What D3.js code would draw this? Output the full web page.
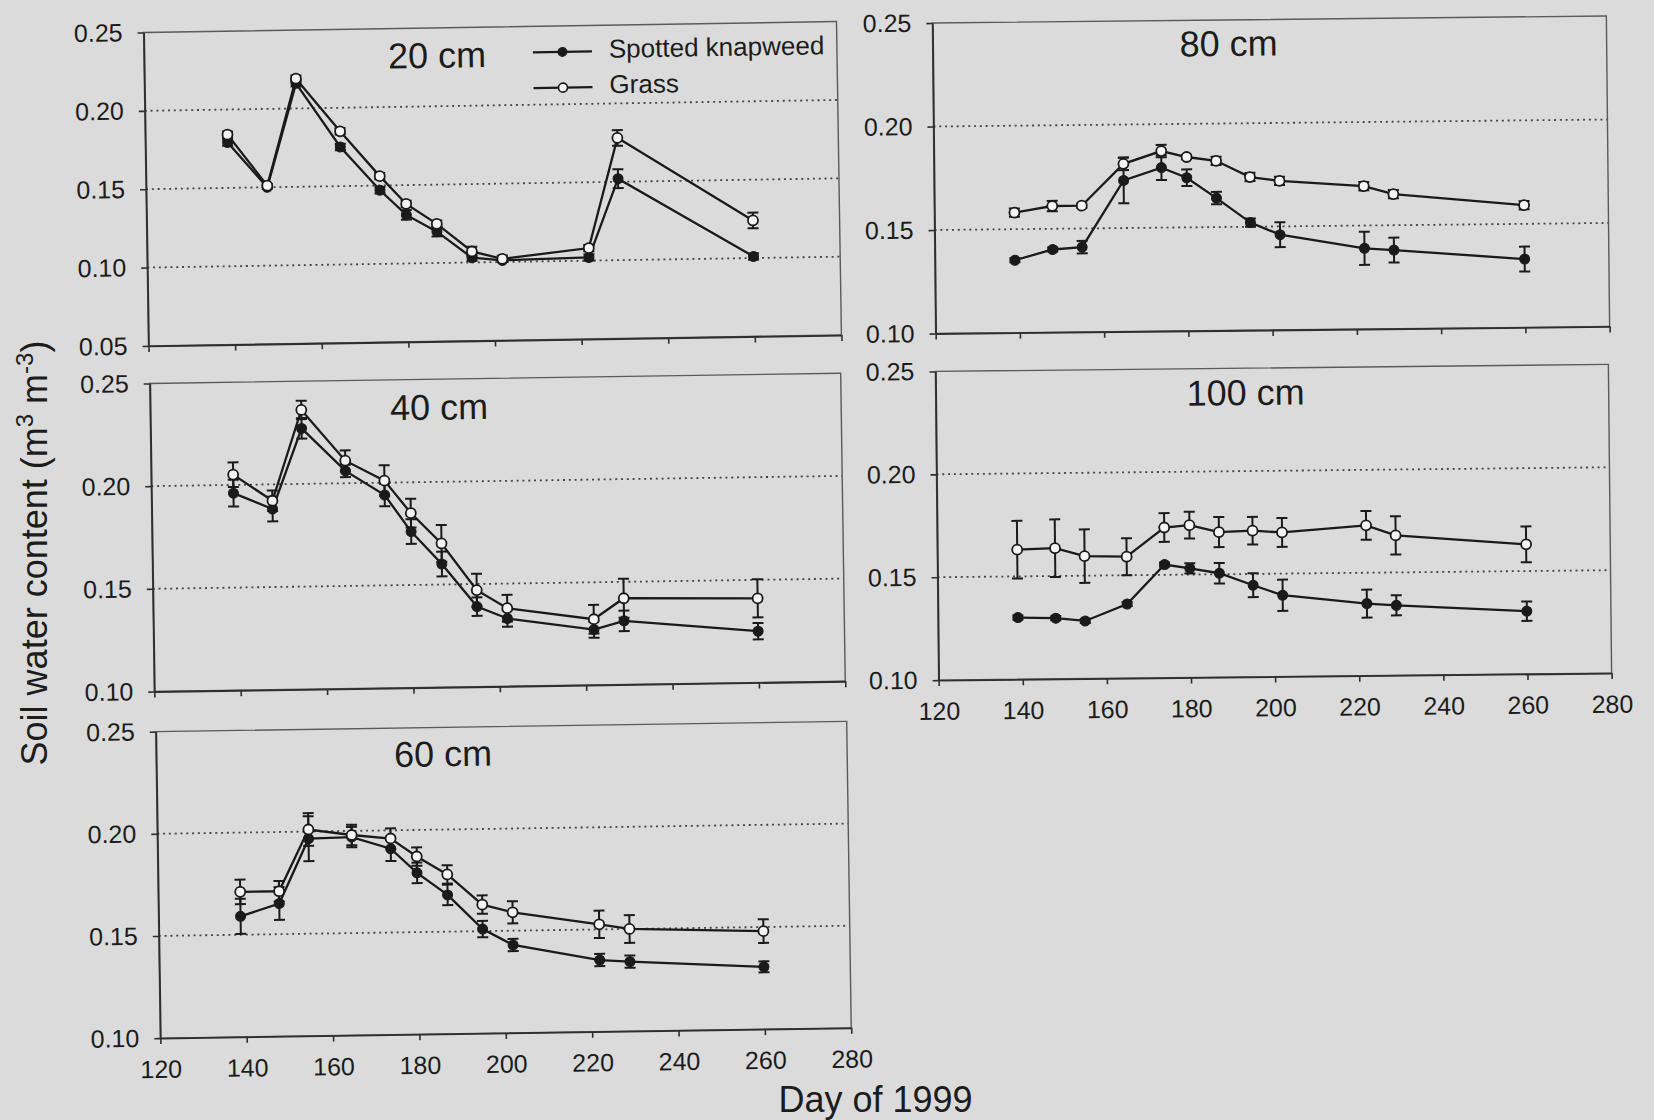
<!DOCTYPE html>
<html>
<head>
<meta charset="utf-8">
<script src="https://cdn.jsdelivr.net/npm/d3@7"></script>
<style>
  html, body { margin: 0; padding: 0; background: #dbdbdb; }
  svg { display: block; }
  text { font-family: "Liberation Sans", Arial, Helvetica, sans-serif; fill: #1c1c1c; }
</style>
</head>
<body>
<svg id="chart" width="1654" height="1120"></svg>
<script>
// ---- data: soil water content (m3 m-3) by sampling day, mean and SE ----
const days = [139, 148, 155, 165, 174, 180, 187, 195, 202, 222, 229, 260];
const xTicks = [120, 140, 160, 180, 200, 220, 240, 260, 280];
const yTicks20 = [0.05, 0.10, 0.15, 0.20, 0.25];
const yTicksDeep = [0.10, 0.15, 0.20, 0.25];
const gridLines20 = [0.10, 0.15, 0.20];
const gridLinesDeep = [0.15, 0.20];
const seriesNames = ["Spotted knapweed", "Grass"];
const depthTitles = ["20 cm", "40 cm", "60 cm", "80 cm", "100 cm"];
const xTitle = "Day of 1999";

const knapweed20    = [0.179, 0.150, 0.216, 0.175, 0.147, 0.131, 0.120, 0.103, 0.101, 0.102, 0.152, 0.101];
const knapweed20Err = [0.002, 0.001, 0.002, 0.002, 0.002, 0.003, 0.003, 0.002, 0.001, 0.002, 0.006, 0.002];
const grass20       = [0.184, 0.151, 0.219, 0.185, 0.156, 0.138, 0.125, 0.107, 0.102, 0.108, 0.178, 0.124];
const grass20Err    = [0.002, 0.001, 0.002, 0.002, 0.002, 0.002, 0.002, 0.003, 0.002, 0.002, 0.005, 0.005];

const knapweed40    = [0.196, 0.188, 0.227, 0.206, 0.194, 0.176, 0.160, 0.139, 0.133, 0.127, 0.131, 0.125];
const knapweed40Err = [0.0065, 0.006, 0.005, 0.003, 0.0055, 0.006, 0.006, 0.0045, 0.004, 0.004, 0.005, 0.004];
const grass40       = [0.205, 0.192, 0.236, 0.211, 0.201, 0.185, 0.170, 0.147, 0.138, 0.132, 0.142, 0.141];
const grass40Err    = [0.006, 0.005, 0.0045, 0.005, 0.0075, 0.007, 0.009, 0.008, 0.0065, 0.007, 0.0095, 0.0093];

const knapweed60    = [0.159, 0.165, 0.1965, 0.197, 0.191, 0.179, 0.168, 0.151, 0.143, 0.135, 0.134, 0.1305];
const knapweed60Err = [0.0086, 0.008, 0.011, 0.005, 0.006, 0.005, 0.005, 0.004, 0.003, 0.003, 0.003, 0.0027];
const grass60       = [0.171, 0.171, 0.201, 0.198, 0.196, 0.187, 0.178, 0.163, 0.159, 0.1525, 0.150, 0.148];
const grass60Err    = [0.006, 0.005, 0.008, 0.005, 0.005, 0.0045, 0.0045, 0.0045, 0.0054, 0.0067, 0.0068, 0.0058];

const knapweed80    = [0.135, 0.140, 0.141, 0.173, 0.179, 0.174, 0.164, 0.152, 0.146, 0.139, 0.138, 0.133];
const knapweed80Err = [0.001, 0.001, 0.003, 0.011, 0.006, 0.004, 0.003, 0.002, 0.006, 0.008, 0.006, 0.006];
const grass80       = [0.158, 0.161, 0.161, 0.181, 0.187, 0.184, 0.182, 0.174, 0.172, 0.169, 0.165, 0.159];
const grass80Err    = [0.002, 0.0025, 0.001, 0.003, 0.003, 0.001, 0.002, 0.002, 0.002, 0.002, 0.002, 0.002];

const knapweed100    = [0.130, 0.1295, 0.128, 0.136, 0.155, 0.153, 0.1505, 0.1445, 0.1395, 0.135, 0.134, 0.1305];
const knapweed100Err = [0.001, 0.001, 0.001, 0.001, 0.001, 0.0025, 0.005, 0.0058, 0.0076, 0.0068, 0.0049, 0.0047];
const grass100       = [0.163, 0.1635, 0.1595, 0.159, 0.173, 0.174, 0.1705, 0.171, 0.170, 0.173, 0.168, 0.163];
const grass100Err    = [0.014, 0.014, 0.013, 0.009, 0.007, 0.0065, 0.0073, 0.0067, 0.007, 0.007, 0.0093, 0.0087];

// ---- layout of the five panels (page pixels) ----
const panels = [
  { title: depthTitles[0], k: knapweed20, kErr: knapweed20Err, g: grass20, gErr: grass20Err,
    yMin: 0.05, yTicks: yTicks20, grid: gridLines20,
    x0: 146, x1: 839, yTop: 27, yBot: 340.5, angle: -0.9, xLabels: false, legend: true, tdx: 244, tdy: 40 },
  { title: depthTitles[1], k: knapweed40, kErr: knapweed40Err, g: grass40, gErr: grass40Err,
    yMin: 0.10, yTicks: yTicksDeep, grid: gridLinesDeep,
    x0: 152, x1: 843, yTop: 378.3, yBot: 686.4, angle: -0.85, xLabels: false, legend: false, tdx: 240, tdy: 40.5 },
  { title: depthTitles[2], k: knapweed60, kErr: knapweed60Err, g: grass60, gErr: grass60Err,
    yMin: 0.10, yTicks: yTicksDeep, grid: gridLinesDeep,
    x0: 158, x1: 849, yTop: 726.5, yBot: 1033, angle: -0.85, xLabels: true, legend: false, tdx: 238, tdy: 39 },
  { title: depthTitles[3], k: knapweed80, kErr: knapweed80Err, g: grass80, gErr: grass80Err,
    yMin: 0.10, yTicks: yTicksDeep, grid: gridLinesDeep,
    x0: 934, x1: 1608, yTop: 19.5, yBot: 330, angle: -0.6, xLabels: false, legend: false, tdx: 247, tdy: 36 },
  { title: depthTitles[4], k: knapweed100, kErr: knapweed100Err, g: grass100, gErr: grass100Err,
    yMin: 0.10, yTicks: yTicksDeep, grid: gridLinesDeep,
    x0: 937, x1: 1610, yTop: 367.9, yBot: 676.6, angle: -0.6, xLabels: true, legend: false, tdx: 251, tdy: 37 }
];

const ink = "#1a1a1a";
const svg = d3.select("#chart");

function drawSeries(g, x, y, vals, errs, filled) {
  const pts = days.map((d, i) => ({ d, v: vals[i], e: errs[i] }));
  const cap = 5.5;
  const eb = g.append("g").attr("stroke", ink).attr("stroke-width", 2);
  pts.forEach(p => {
    const yt = y(p.v + p.e), yb = y(p.v - p.e), xc = x(p.d);
    eb.append("line").attr("x1", xc).attr("x2", xc).attr("y1", yt).attr("y2", yb);
    eb.append("line").attr("x1", xc - cap).attr("x2", xc + cap).attr("y1", yt).attr("y2", yt);
    eb.append("line").attr("x1", xc - cap).attr("x2", xc + cap).attr("y1", yb).attr("y2", yb);
  });
  g.append("path")
    .attr("d", d3.line().x(p => x(p.d)).y(p => y(p.v))(pts))
    .attr("fill", "none").attr("stroke", ink).attr("stroke-width", 2.3);
  g.append("g").selectAll("circle").data(pts).join("circle")
    .attr("cx", p => x(p.d)).attr("cy", p => y(p.v)).attr("r", 5)
    .attr("fill", filled ? ink : "#f4f4f4")
    .attr("stroke", ink).attr("stroke-width", filled ? 1 : 1.8);
}

panels.forEach(p => {
  const cx = (p.x0 + p.x1) / 2, cy = (p.yTop + p.yBot) / 2;
  const g = svg.append("g").attr("transform", `rotate(${p.angle},${cx},${cy})`);
  const x = d3.scaleLinear().domain([120, 280]).range([p.x0, p.x1]);
  const y = d3.scaleLinear().domain([p.yMin, 0.25]).range([p.yBot, p.yTop]);

  // dotted reference lines
  g.append("g").selectAll("line").data(p.grid).join("line")
    .attr("x1", p.x0).attr("x2", p.x1).attr("y1", d => y(d)).attr("y2", d => y(d))
    .attr("stroke", "#454545").attr("stroke-width", 1.8).attr("stroke-dasharray", "2 3.8");

  // plot frame
  g.append("rect").attr("x", p.x0).attr("y", p.yTop)
    .attr("width", p.x1 - p.x0).attr("height", p.yBot - p.yTop)
    .attr("fill", "none").attr("stroke", "#5a5a5a").attr("stroke-width", 1.4);

  const yAxis = g.append("g").attr("transform", `translate(${p.x0},0)`)
    .call(d3.axisLeft(y).tickValues(p.yTicks).tickFormat(d3.format(".2f"))
      .tickSize(6).tickSizeOuter(0).tickPadding(15));
  const xAxis = g.append("g").attr("transform", `translate(0,${p.yBot})`)
    .call(d3.axisBottom(x).tickValues(xTicks).tickFormat(p.xLabels ? d3.format("d") : () => "")
      .tickSize(6).tickSizeOuter(0).tickPadding(16));
  [yAxis, xAxis].forEach(a => {
    a.select(".domain").attr("stroke", "#2e2e2e").attr("stroke-width", 1.8);
    a.selectAll(".tick line").attr("stroke", "#2e2e2e").attr("stroke-width", 1.6);
    a.selectAll(".tick text").style("font-size", "25px").attr("fill", "#1c1c1c")
      .style("font-family", '"Liberation Sans", Arial, sans-serif');
  });

  drawSeries(g, x, y, p.k, p.kErr, true);
  drawSeries(g, x, y, p.g, p.gErr, false);

  g.append("text").attr("x", p.x0 + p.tdx).attr("y", p.yTop + p.tdy)
    .style("font-size", "36px").text(p.title);

  if (p.legend) {
    const lg = g.append("g");
    const rows = [{ name: seriesNames[0], filled: true, y: 53 }, { name: seriesNames[1], filled: false, y: 88.7 }];
    rows.forEach(r => {
      lg.append("line").attr("x1", 535).attr("x2", 594).attr("y1", r.y).attr("y2", r.y)
        .attr("stroke", ink).attr("stroke-width", 2.2);
      lg.append("circle").attr("cx", 564.5).attr("cy", r.y).attr("r", 4.5)
        .attr("fill", r.filled ? ink : "#f4f4f4").attr("stroke", ink).attr("stroke-width", r.filled ? 1 : 1.6);
      lg.append("text").attr("x", 611).attr("y", r.y + 6.5).style("font-size", "26px").text(r.name);
    });
  }
});

// shared axis titles
svg.append("text").attr("x", 875.5).attr("y", 1111.5).attr("text-anchor", "middle")
  .style("font-size", "36px").text(xTitle);

const yl = svg.append("text").attr("transform", "translate(47,553) rotate(-90)")
  .attr("text-anchor", "middle").style("font-size", "36px");
yl.append("tspan").text("Soil water content (m");
yl.append("tspan").attr("dy", -14).style("font-size", "24px").text("3");
yl.append("tspan").attr("dy", 14).text(" m");
yl.append("tspan").attr("dy", -14).style("font-size", "24px").text("-3");
yl.append("tspan").attr("dy", 14).text(")");
</script>
</body>
</html>
